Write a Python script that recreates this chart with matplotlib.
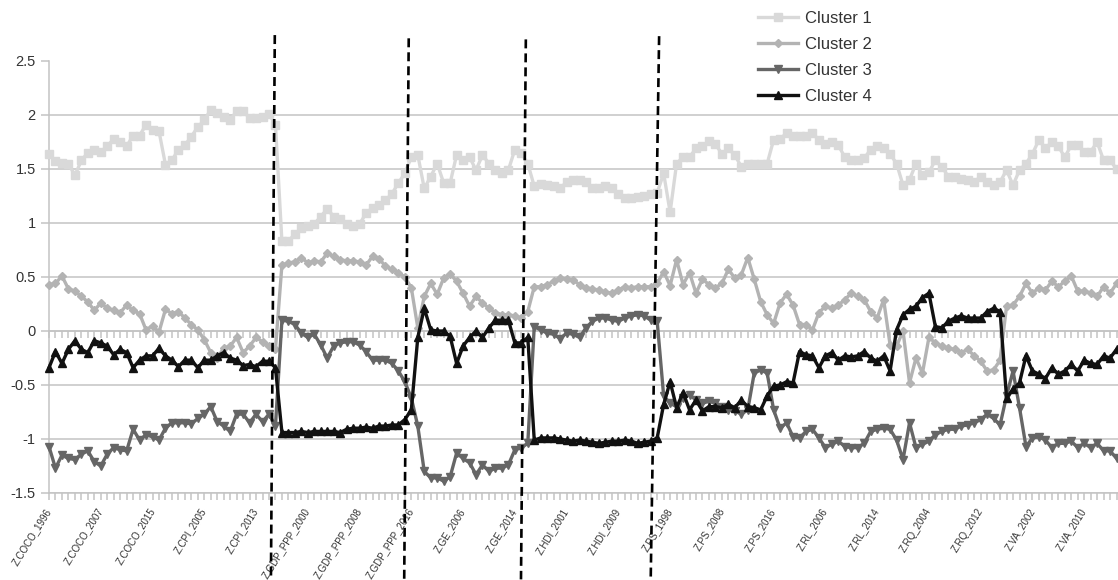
import numpy as np
import matplotlib
matplotlib.use("Agg")
import matplotlib.pyplot as plt

plt.rcParams['font.family'] = ['Liberation Sans', 'DejaVu Sans']

# ---------------- data ----------------
series_names = ["Cluster 1", "Cluster 2", "Cluster 3", "Cluster 4"]

cluster1 = [1.64, 1.57, 1.56, 1.55, 1.44, 1.58, 1.65, 1.68, 1.66, 1.71,
            1.78, 1.75, 1.71, 1.81, 1.81, 1.91, 1.86, 1.85, 1.54, 1.58,
            1.68, 1.72, 1.80, 1.89, 1.95, 2.05, 2.02, 1.98, 1.95, 2.04,
            2.04, 1.97, 1.97, 1.98, 2.01, 1.91, 0.83, 0.83, 0.90, 0.95,
            0.97, 0.99, 1.06, 1.13, 1.06, 1.04, 0.99, 0.97, 0.99, 1.09,
            1.14, 1.17, 1.21, 1.27, 1.37, 1.46, 1.61, 1.63, 1.32, 1.43,
            1.55, 1.37, 1.37, 1.63, 1.58, 1.61, 1.49, 1.63, 1.55, 1.49,
            1.46, 1.49, 1.68, 1.65, 1.55, 1.34, 1.36, 1.35, 1.34, 1.32,
            1.38, 1.40, 1.40, 1.38, 1.32, 1.32, 1.34, 1.32, 1.27, 1.23,
            1.23, 1.24, 1.25, 1.27, 1.28, 1.46, 1.10, 1.55, 1.61, 1.61,
            1.69, 1.71, 1.76, 1.73, 1.64, 1.69, 1.63, 1.52, 1.55, 1.55,
            1.55, 1.55, 1.77, 1.78, 1.83, 1.81, 1.81, 1.81, 1.83, 1.77,
            1.73, 1.75, 1.72, 1.61, 1.58, 1.58, 1.60, 1.68, 1.71, 1.69,
            1.64, 1.55, 1.35, 1.40, 1.55, 1.44, 1.47, 1.58, 1.52, 1.43,
            1.43, 1.41, 1.40, 1.38, 1.43, 1.38, 1.35, 1.38, 1.49, 1.35,
            1.49, 1.55, 1.64, 1.77, 1.69, 1.75, 1.71, 1.61, 1.72, 1.72,
            1.66, 1.66, 1.75, 1.58, 1.58, 1.50]

cluster2 = [0.43, 0.44, 0.51, 0.39, 0.37, 0.32, 0.27, 0.19, 0.26, 0.21,
            0.19, 0.17, 0.24, 0.19, 0.16, 0.01, 0.05, -0.01, 0.20, 0.16,
            0.18, 0.12, 0.06, 0.01, -0.08, -0.20, -0.25, -0.16, -0.14, -0.06,
            -0.20, -0.14, -0.06, -0.10, -0.14, -0.17, 0.61, 0.63, 0.64, 0.68,
            0.63, 0.65, 0.64, 0.72, 0.69, 0.66, 0.65, 0.65, 0.64, 0.61,
            0.69, 0.67, 0.60, 0.57, 0.54, 0.50, 0.40, 0.03, 0.32, 0.44,
            0.34, 0.49, 0.53, 0.46, 0.35, 0.23, 0.32, 0.26, 0.21, 0.17,
            0.15, 0.15, 0.14, 0.12, 0.18, 0.41, 0.41, 0.43, 0.46, 0.49,
            0.48, 0.47, 0.43, 0.40, 0.39, 0.38, 0.36, 0.35, 0.38, 0.41,
            0.40, 0.41, 0.41, 0.41, 0.44, 0.55, 0.42, 0.66, 0.43, 0.54,
            0.35, 0.48, 0.43, 0.40, 0.44, 0.57, 0.49, 0.52, 0.68, 0.48,
            0.27, 0.15, 0.07, 0.26, 0.34, 0.24, 0.06, 0.06, 0.01, 0.17,
            0.23, 0.21, 0.24, 0.29, 0.35, 0.32, 0.29, 0.18, 0.12, 0.29,
            -0.13, -0.14, 0.00, -0.48, -0.25, -0.39, -0.06, -0.11, -0.14, -0.16,
            -0.17, -0.20, -0.17, -0.23, -0.28, -0.37, -0.36, -0.27, 0.23, 0.24,
            0.32, 0.44, 0.35, 0.40, 0.38, 0.46, 0.41, 0.46, 0.51, 0.37,
            0.37, 0.35, 0.32, 0.41, 0.35, 0.44]

cluster3 = [-1.07, -1.27, -1.15, -1.18, -1.19, -1.14, -1.11, -1.21, -1.25, -1.14,
            -1.08, -1.10, -1.11, -0.91, -1.01, -0.96, -0.98, -1.01, -0.90, -0.85,
            -0.85, -0.85, -0.86, -0.81, -0.77, -0.70, -0.84, -0.88, -0.93, -0.77,
            -0.77, -0.85, -0.77, -0.84, -0.77, -0.88, 0.10, 0.09, 0.06, -0.02,
            -0.06, -0.03, -0.13, -0.25, -0.14, -0.11, -0.10, -0.10, -0.13, -0.19,
            -0.27, -0.27, -0.27, -0.30, -0.37, -0.47, -0.62, -0.88, -1.30, -1.36,
            -1.36, -1.39, -1.35, -1.13, -1.18, -1.22, -1.33, -1.24, -1.30, -1.27,
            -1.27, -1.24, -1.10, -1.08, -1.04, 0.04, 0.01, -0.02, -0.03, -0.07,
            -0.02, -0.03, -0.06, 0.03, 0.09, 0.12, 0.12, 0.10, 0.09, 0.12,
            0.14, 0.15, 0.14, 0.10, 0.09, -0.60, -0.67, -0.70, -0.62, -0.59,
            -0.64, -0.67, -0.65, -0.67, -0.70, -0.73, -0.74, -0.77, -0.73, -0.39,
            -0.36, -0.39, -0.73, -0.90, -0.85, -0.98, -0.99, -0.93, -0.91, -0.99,
            -1.08, -1.05, -1.02, -1.07, -1.08, -1.08, -1.04, -0.93, -0.91, -0.90,
            -0.91, -1.01, -1.19, -0.85, -1.08, -1.05, -1.02, -0.96, -0.93, -0.91,
            -0.91, -0.88, -0.87, -0.85, -0.82, -0.77, -0.81, -0.87, -0.60, -0.37,
            -0.71, -1.07, -0.99, -0.98, -1.01, -1.08, -1.04, -1.04, -1.02, -1.08,
            -1.04, -1.08, -1.04, -1.11, -1.11, -1.18]

cluster4 = [-0.34, -0.19, -0.30, -0.17, -0.09, -0.17, -0.20, -0.09, -0.11, -0.14,
            -0.22, -0.17, -0.20, -0.34, -0.27, -0.23, -0.23, -0.16, -0.23, -0.27,
            -0.33, -0.27, -0.27, -0.34, -0.27, -0.27, -0.23, -0.20, -0.25, -0.27,
            -0.32, -0.31, -0.33, -0.28, -0.28, -0.34, -0.94, -0.94, -0.94, -0.93,
            -0.94, -0.93, -0.93, -0.93, -0.93, -0.94, -0.91, -0.90, -0.90, -0.89,
            -0.90, -0.88, -0.88, -0.87, -0.87, -0.82, -0.73, -0.06, 0.21, 0.01,
            0.00, 0.00, -0.05, -0.30, -0.14, -0.06, 0.00, -0.06, 0.03, 0.10,
            0.10, 0.10, -0.11, -0.11, -0.06, -1.01, -0.99, -0.99, -0.99, -1.00,
            -1.01, -1.02, -1.01, -1.02, -1.03, -1.04, -1.03, -1.02, -1.02, -1.01,
            -1.02, -1.04, -1.03, -1.02, -0.99, -0.68, -0.47, -0.71, -0.57, -0.73,
            -0.64, -0.74, -0.70, -0.70, -0.71, -0.68, -0.71, -0.64, -0.70, -0.71,
            -0.73, -0.60, -0.51, -0.50, -0.47, -0.48, -0.19, -0.22, -0.23, -0.34,
            -0.23, -0.20, -0.27, -0.23, -0.24, -0.23, -0.19, -0.25, -0.28, -0.23,
            -0.37, 0.01, 0.15, 0.20, 0.23, 0.31, 0.35, 0.04, 0.03, 0.09,
            0.12, 0.14, 0.12, 0.12, 0.12, 0.18, 0.21, 0.18, -0.62, -0.54,
            -0.48, -0.23, -0.37, -0.40, -0.44, -0.34, -0.40, -0.37, -0.31, -0.37,
            -0.27, -0.30, -0.31, -0.23, -0.25, -0.17]

# labelled categories (every 8th category carries a label)
tick_labels = ["Z.COCO_1996", "Z.COCO_2007", "Z.COCO_2015", "Z.CPI_2005",
               "Z.CPI_2013", "Z.GDP_PPP_2000", "Z.GDP_PPP_2008",
               "Z.GDP_PPP_2016", "Z.GE_2006", "Z.GE_2014", "Z.HDI_2001",
               "Z.HDI_2009", "Z.PS_1998", "Z.PS_2008", "Z.PS_2016",
               "Z.RL_2006", "Z.RL_2014", "Z.RQ_2004", "Z.RQ_2012",
               "Z.VA_2002", "Z.VA_2010"]
label_step = 8

# hand-drawn group separators (category position at top / bottom)
sep_x_top = [34.9, 55.6, 73.7, 94.3]
sep_x_bottom = [34.3, 54.9, 72.95, 93.0]
sep_y_top = [2.74, 2.71, 2.70, 2.73]
sep_y_bottom = [-2.30, -2.30, -2.30, -2.30]

y_ticks = [-1.5, -1, -0.5, 0, 0.5, 1, 1.5, 2, 2.5]

# ---------------- styling ----------------
colors = ["#d9d9d9", "#b3b3b3", "#666666", "#111111"]
markers = ["s", "D", "v", "^"]
msizes = [5.8, 4.4, 5.8, 5.8]
grid_col = "#c3c3c3"
text_col = "#333333"

W, H = 1118, 580
fig = plt.figure(figsize=(W / 100, H / 100), dpi=100)
left_px, right_px, top_px, bottom_px = 49, 1118, 61, 493
ax = fig.add_axes([left_px / W, (H - bottom_px) / H,
                   (right_px - left_px) / W, (bottom_px - top_px) / H])

n = len(cluster1)
x = np.arange(n)
px_per_cat = 6.47
ax.set_xlim(0, (right_px - left_px) / px_per_cat)
ax.set_ylim(-1.5, 2.5)

for name, vals, c, m, ms in zip(series_names,
                                [cluster1, cluster2, cluster3, cluster4],
                                colors, markers, msizes):
    ax.plot(x, vals, color=c, lw=2.4, marker=m, ms=ms, mfc=c, mec=c,
            label=name, clip_on=False, zorder=3)

# y axis / grid
ax.set_yticks(y_ticks)
ax.set_yticklabels([f"{v:g}" for v in y_ticks])
ax.yaxis.grid(True, color=grid_col, lw=1.1)
ax.set_axisbelow(True)
ygl = ax.get_ygridlines()
ygl[-1].set_visible(False)
ax.tick_params(axis='y', length=6, width=1.1, color=grid_col, pad=3.5,
               labelsize=10.5, labelcolor=text_col)

# x axis at the bottom
ax.set_xticks(x[::label_step][:len(tick_labels)])
ax.set_xticklabels(tick_labels, rotation=58, ha='right', va='center',
                   rotation_mode='anchor', fontsize=7.0, color=text_col)
ax.set_xticks(x, minor=True)
ax.tick_params(axis='x', which='both', length=5, width=1.1, color=grid_col,
               pad=6.5)

for s in ['top', 'right']:
    ax.spines[s].set_visible(False)
for s in ['left', 'bottom']:
    ax.spines[s].set_color(grid_col)
    ax.spines[s].set_linewidth(1.1)

# category axis crossing at y = 0
ylo, yhi = ax.get_ylim()
sec = ax.secondary_xaxis((0 - ylo) / (yhi - ylo))
sec.set_xticks(x)
sec.tick_params(length=5, width=1.1, color=grid_col, labelbottom=False,
                labeltop=False)
for s in sec.spines.values():
    s.set_color(grid_col)
    s.set_linewidth(1.1)

# dashed separators
for xt, xb, yt, yb in zip(sep_x_top, sep_x_bottom, sep_y_top, sep_y_bottom):
    ax.plot([xt, xb], [yt, yb], color='black', lw=1.9, ls=(0, (3.4, 1.9)),
            clip_on=False, zorder=6)

leg = ax.legend(loc='upper left', bbox_to_anchor=(758 / W, 1 - 11 / H),
                bbox_transform=fig.transFigure, frameon=False, borderpad=0,
                borderaxespad=0, fontsize=12, handlelength=2.4,
                handletextpad=0.4, labelspacing=0.66)
for t in leg.get_texts():
    t.set_color(text_col)

fig.savefig("out.png", dpi=100)
